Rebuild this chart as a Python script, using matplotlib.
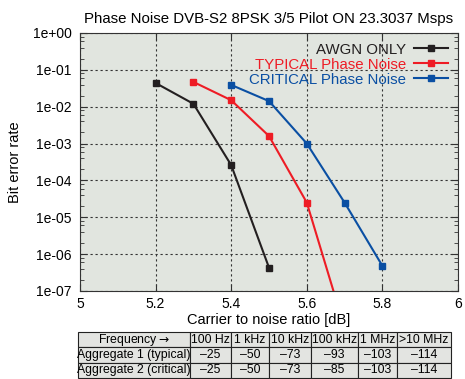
import matplotlib
matplotlib.use('Agg')
from matplotlib import pyplot as plt
from matplotlib.ticker import LogLocator, NullFormatter, FixedLocator

plt.rcParams['font.family'] = ['Liberation Sans', 'DejaVu Sans']

# data
awgn_x = [5.2, 5.3, 5.4, 5.5]
awgn_y = [0.044, 0.012, 2.6e-4, 4.3e-7]
typ_x = [5.3, 5.4, 5.5, 5.6, 5.7]
typ_y = [0.047, 0.015, 1.6e-3, 2.5e-5, 1e-8]
crit_x = [5.4, 5.5, 5.6, 5.7, 5.8]
crit_y = [0.039, 0.0142, 1.0e-3, 2.5e-5, 4.8e-7]

xticks = [5, 5.2, 5.4, 5.6, 5.8, 6]
xticklabels = ['5', '5.2', '5.4', '5.6', '5.8', '6']
yticks = [1, 1e-1, 1e-2, 1e-3, 1e-4, 1e-5, 1e-6, 1e-7]
yticklabels = ['1e+00', '1e-01', '1e-02', '1e-03', '1e-04', '1e-05', '1e-06', '1e-07']

col_labels = ['Frequency$\\rightarrow$', '100 Hz', '1 kHz', '10 kHz', '100 kHz', '1 MHz', '>10 MHz']
agg1 = ['Aggregate 1 (typical)', '\u201325', '\u201350', '\u201373', '\u201393', '\u2013103', '\u2013114']
agg2 = ['Aggregate 2 (critical)', '\u201325', '\u201350', '\u201373', '\u201385', '\u2013103', '\u2013114']

W, H = 465, 379
fig = plt.figure(figsize=(W / 100, H / 100), dpi=100)
ax = fig.add_axes([80 / W, 1 - 291 / H, 378 / W, 258 / H])
ax.set_facecolor('#e1e5df')

ax.plot(awgn_x, awgn_y, color='#231f20', lw=1.5, marker='s', ms=4, label='AWGN ONLY')
ax.plot(typ_x, typ_y, color='#ee1c25', lw=1.5, marker='s', ms=4, label='TYPICAL Phase Noise')
ax.plot(crit_x, crit_y, color='#0a4fa3', lw=1.5, marker='s', ms=4, label='CRITICAL Phase Noise')

ax.set_yscale('log')
ax.set_xlim(5, 6)
ax.set_ylim(1e-7, 1)
ax.set_xticks(xticks)
ax.set_xticklabels(xticklabels)
ax.yaxis.set_major_locator(FixedLocator(yticks))
ax.set_yticklabels(yticklabels)
ax.yaxis.set_minor_locator(LogLocator(base=10, subs=[2, 4, 6, 8], numticks=20))
ax.yaxis.set_minor_formatter(NullFormatter())
ax.tick_params(axis='both', which='both', direction='in', top=True, right=True,
               labelsize=10, color='#333333')
ax.tick_params(axis='both', which='major', length=5, width=0.8)
ax.tick_params(axis='y', which='minor', length=3, width=0.6)
ax.tick_params(axis='x', pad=4)
ax.tick_params(axis='y', pad=6)
for s in ax.spines.values():
    s.set_color('#333333')
    s.set_linewidth(0.8)
ax.grid(True, which='major', color='#333333', linestyle=(0, (2, 2.5)), lw=0.8)

ax.set_title('Phase Noise DVB-S2 8PSK 3/5 Pilot ON 23.3037 Msps', fontsize=10.8, pad=7)
ax.set_xlabel('Carrier to noise ratio [dB]', fontsize=10.5, labelpad=2)
ax.set_ylabel('Bit error rate', fontsize=10.5, labelpad=8)

ax.legend(loc='upper right', frameon=False, markerfirst=False, labelcolor='linecolor',
          fontsize=10.8, handlelength=2.3, handletextpad=0.5, labelspacing=0.06,
          borderaxespad=0.25)

tax = fig.add_axes([78 / W, 1 / H, 373 / W, 46 / H])
tax.axis('off')
widths = [112, 41, 38, 42, 47, 39, 54]
tot = sum(widths)
tbl = tax.table(cellText=[col_labels, agg1, agg2], bbox=[0, 0, 1, 1],
                colWidths=[w / tot for w in widths], cellLoc='center')
tbl.auto_set_font_size(False)
tbl.set_fontsize(8.8)
for (r, c), cell in tbl.get_celld().items():
    cell.set_facecolor('#e3e4e1')
    cell.set_edgecolor('#222222')
    cell.set_linewidth(0.8)
    cell.PAD = 0.02

fig.savefig('out.png', dpi=100)
